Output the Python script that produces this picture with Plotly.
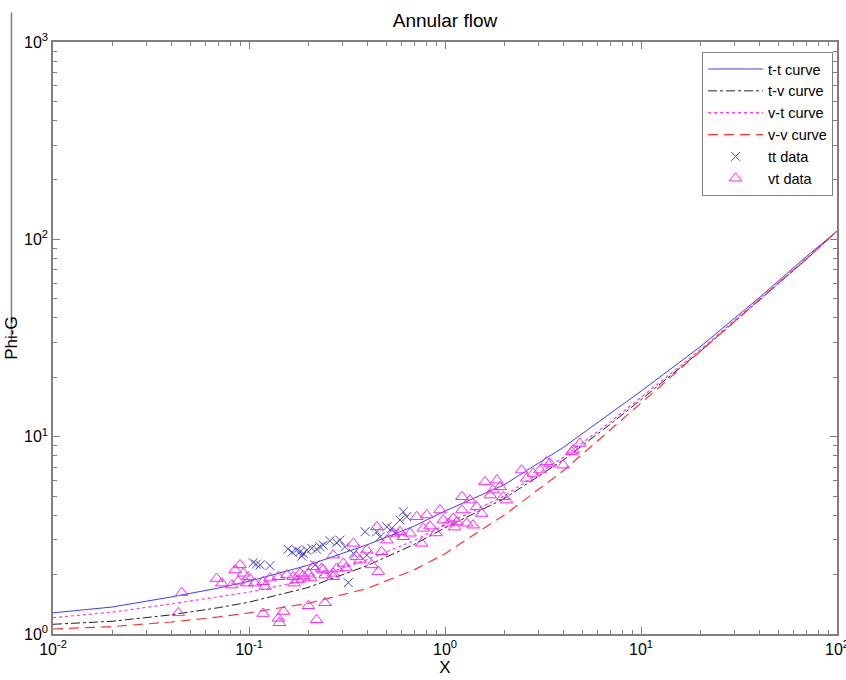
import plotly.graph_objects as go

# Curve abscissa (Martinelli parameter X)
x_curve = [0.01, 0.02, 0.04, 0.07, 0.1, 0.2, 0.4, 0.7, 1, 2, 4, 7, 10, 20, 40, 70, 100]
phi_tt = [1.28, 1.37, 1.54, 1.71, 1.85, 2.23, 2.83, 3.53, 4.20, 5.70, 8.80, 13.1, 17.0, 28.5, 50.5, 82.0, 110]
phi_tv = [1.12, 1.16, 1.25, 1.36, 1.45, 1.72, 2.22, 2.85, 3.45, 4.85, 7.60, 11.6, 15.4, 27.0, 49.0, 79.5, 110]
phi_vt = [1.21, 1.29, 1.42, 1.55, 1.63, 1.88, 2.38, 2.98, 3.58, 5.00, 7.85, 11.9, 15.8, 27.5, 49.5, 80.0, 110]
phi_vv = [1.06, 1.09, 1.15, 1.22, 1.28, 1.43, 1.70, 2.12, 2.55, 4.00, 6.70, 10.8, 14.8, 27.0, 49.0, 80.0, 110]

# tt data
tt_x = [0.105, 0.109, 0.114, 0.128, 0.175, 0.182, 0.189, 0.197, 0.209, 0.221, 0.239, 0.259,
        0.280, 0.217, 0.186, 0.230, 0.291, 0.309, 0.391, 0.449, 0.505, 0.535, 0.613, 0.638,
        0.589, 0.399, 0.321, 0.341, 0.466, 0.556, 0.158, 0.166]
tt_y = [2.30, 2.26, 2.24, 2.22, 2.66, 2.61, 2.56, 2.66, 2.72, 2.69, 2.82, 2.97,
        2.90, 2.24, 2.48, 2.77, 2.99, 2.77, 3.30, 3.30, 3.49, 3.43, 4.16, 3.93,
        3.78, 2.51, 1.82, 2.56, 3.11, 3.24, 2.69, 2.60]

# vt data
vt_x = [0.0454, 0.0436, 0.0684, 0.0726, 0.0817, 0.0849, 0.0900, 0.0935, 0.0991, 0.0973,
        0.107, 0.118, 0.121, 0.118, 0.141, 0.150, 0.141, 0.143, 0.168, 0.170,
        0.189, 0.201, 0.201, 0.221, 0.244, 0.235, 0.244, 0.269, 0.280, 0.269,
        0.182, 0.213, 0.239, 0.269, 0.303, 0.341, 0.354, 0.399, 0.423, 0.457,
        0.475, 0.449, 0.505, 0.545, 0.589, 0.613, 0.663, 0.717, 0.775, 0.760,
        0.807, 0.943, 0.980, 1.04, 1.10, 1.15, 1.29, 1.34, 1.22, 1.45,
        1.54, 1.39, 1.60, 1.70, 1.84, 1.91, 1.76, 1.98, 2.06, 2.46,
        2.61, 2.82, 3.05, 3.30, 4.01, 4.51, 4.88, 3.43, 4.43,
        0.0879, 0.128, 0.156, 0.178, 0.207, 0.313, 0.368, 0.838, 0.900, 1.12, 1.22]
vt_y = [1.62, 1.28, 1.91, 1.81, 1.77, 2.11, 2.24, 2.03, 1.95, 1.81,
        1.81, 1.84, 1.74, 1.27, 1.95, 1.30, 1.20, 1.14, 1.95, 1.81,
        1.97, 2.03, 1.39, 1.18, 1.44, 2.15, 1.99, 2.51, 2.15, 1.95,
        2.03, 2.19, 2.11, 2.03, 2.28, 2.88, 2.46, 2.66, 2.24, 2.07,
        2.61, 3.49, 2.99, 3.24, 3.30, 3.11, 3.24, 3.93, 3.43, 2.88,
        4.01, 4.25, 3.78, 3.64, 3.85, 3.70, 3.64, 4.77, 4.96, 4.41,
        4.08, 3.56, 5.90, 5.06, 6.02, 5.57, 5.36, 4.96, 4.77, 6.77,
        6.14, 6.51, 6.77, 7.45, 7.17, 8.55, 9.24, 7.31, 8.37,
        1.85, 1.92, 1.99, 1.88, 1.92, 2.16, 2.37, 3.52, 3.25, 3.48, 4.25]

x_tickvals = [0.01, 0.1, 1, 10, 100]
x_ticktext = ["10<sup>-2</sup>", "10<sup>-1</sup>", "10<sup>0</sup>", "10<sup>1</sup>", "10<sup>2</sup>"]
y_tickvals = [1, 10, 100, 1000]
y_ticktext = ["10<sup>0</sup>", "10<sup>1</sup>", "10<sup>2</sup>", "10<sup>3</sup>"]

FONT = "Liberation Sans, Arial"

fig = go.Figure()
fig.add_trace(go.Scatter(x=x_curve, y=phi_tt, mode="lines", name="t-t curve",
                         line=dict(color="#3c3cff", width=1)))
fig.add_trace(go.Scatter(x=x_curve, y=phi_tv, mode="lines", name="t-v curve",
                         line=dict(color="#222222", width=1, dash="dashdot")))
fig.add_trace(go.Scatter(x=x_curve, y=phi_vt, mode="lines", name="v-t curve",
                         line=dict(color="#ff33ff", width=1.2, dash="dot")))
fig.add_trace(go.Scatter(x=x_curve, y=phi_vv, mode="lines", name="v-v curve",
                         line=dict(color="#ff3333", width=1.2, dash="10px,6px")))
fig.add_trace(go.Scatter(x=tt_x, y=tt_y, mode="markers", name="tt data",
                         marker=dict(symbol="x-thin-open", size=9, color="#4646c8",
                                     line=dict(color="#4646c8", width=1))))
fig.add_trace(go.Scatter(x=vt_x, y=vt_y, mode="markers", name="vt data",
                         marker=dict(symbol="triangle-up-open", size=11, color="#ff22ff",
                                     line=dict(color="#ff22ff", width=1))))

axis_common = dict(showline=True, linecolor="#808080", linewidth=1.5, mirror="ticks",
                   ticks="inside", ticklen=7, tickcolor="#808080", showgrid=False,
                   zeroline=False, ticklabeloverflow="allow", automargin=False,
                   tickfont=dict(family=FONT, size=16, color="black"))

fig.update_xaxes(type="log", range=[-2, 2], tickvals=x_tickvals, ticktext=x_ticktext,
                 minor=dict(ticks="inside", ticklen=4, tickcolor="#808080",
                            tickvals=[m * 10**e for e in range(-2, 2) for m in range(2, 10)]),
                 title=dict(text="X", font=dict(family=FONT, size=17, color="black"),
                            standoff=2),
                 **axis_common)
fig.update_yaxes(type="log", range=[0, 3], tickvals=y_tickvals, ticktext=y_ticktext,
                 minor=dict(ticks="inside", ticklen=4, tickcolor="#808080",
                            tickvals=[m * 10**e for e in range(0, 3) for m in range(2, 10)]),
                 title=dict(text="Phi-G", font=dict(family=FONT, size=17, color="black"),
                            standoff=2),
                 **axis_common)

fig.update_layout(
    width=846, height=680,
    margin=dict(l=53, r=9, t=42, b=46),
    paper_bgcolor="white", plot_bgcolor="white",
    title=dict(text="Annular flow", x=0.526, xanchor="center", y=0.97, yanchor="middle",
               font=dict(family=FONT, size=19, color="black")),
    legend=dict(x=0.995, y=0.983, xanchor="right", yanchor="top",
                bordercolor="#808080", borderwidth=1, bgcolor="white",
                font=dict(family=FONT, size=14.5, color="black"),
                tracegroupgap=0, itemwidth=55),
    showlegend=True,
    shapes=[dict(type="line", xref="paper", yref="paper", x0=-0.053, x1=-0.053,
                 y0=1.05, y1=0.495, line=dict(color="#808080", width=1.5))],
)

fig.write_html("out.html")
